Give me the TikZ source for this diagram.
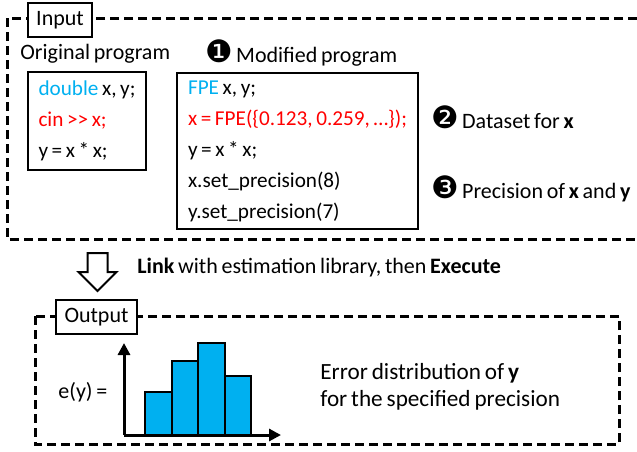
\documentclass[tikz,border=0pt]{standalone}
\usepackage{fontspec}
\setmainfont{Carlito}[WordSpace=0.75]
\newfontfamily\dingfont[Scale=1.4]{DejaVu Sans}
\usetikzlibrary{positioning,arrows.meta}
\definecolor{kwblue}{HTML}{00B0F0}
\definecolor{kwred}{HTML}{FF0000}
\frenchspacing
\tikzset{
  frame/.style = {draw, line width=1.5pt, dash pattern=on 4.5pt off 2.5pt},
  tag/.style   = {shape=rectangle, draw, fill=white, line width=1pt,
                  minimum height=17pt, inner sep=0pt,
                  font=\fontsize{11}{13}\selectfont},
  code/.style  = {shape=rectangle, draw, line width=1pt, align=left,
                  inner xsep=4.5pt, inner ysep=0pt,
                  font=\fontsize{10.6}{15.5}\selectfont},
  note/.style  = {inner sep=0pt, anchor=base west, font=\fontsize{11}{13}\selectfont},
  bar/.style   = {draw, fill=kwblue, line width=1pt},
  axis/.style  = {line width=1.5pt}
}
\newcommand{\vx}[0]{\textbf{x}}
\newcommand{\vy}[0]{\textbf{y}}
\newcommand{\kw}[1]{\textcolor{kwblue}{#1}}
\newcommand{\step}[1]{{\dingfont #1}\hspace{1.6pt}}

\begin{document}
\begin{tikzpicture}[x=0.5pt,y=-0.5pt,>={Triangle[length=6pt,width=6pt]}]
\useasboundingbox (0,0) rectangle (637,451);
% input
\draw[frame] (7,18) rectangle (640,239);
\node[tag, minimum width=32pt] (intag) at (60,20) {Input};
\node[note] (orighead) at (20,59) {Original program};
\node[code, minimum width=59pt, minimum height=49pt] (origcode) at (87,121)
  {\kw{double} x, y;\\ \textcolor{kwred}{cin >{}> x;}\\ y = x * x;};
\node[note] (modhead) at (205,62) {\step{❶}Modified program};
\node[code, minimum width=120.5pt, minimum height=78pt] (modcode) at (297.5,151)
  {\kw{FPE} x, y;\\ \textcolor{kwred}{x = FPE(\{0.123, 0.259, …\});}\\ y = x * x;\\
   x.set\_precision(8)\\ y.set\_precision(7)};
\node[note] (dataset) at (431,128) {\step{❷}Dataset for \vx};
\node[note] (prec) at (431,198) {\step{❸}Precision of \vx{} and \vy};
% link step
\draw[line width=1pt] (87.5,253) -- (107.5,253) -- (107.5,272) -- (116.5,272)
  -- (97.5,291) -- (78.5,272) -- (87.5,272) -- cycle;
\node[note] (linktext) at (137,273)
  {\textbf{Link} with estimation library, then \textbf{Execute}};
% output
\draw[frame] (35,316) rectangle (619,444);
\node[tag, minimum width=40.5pt] (outtag) at (96.5,317) {Output};
\node[note] (ey) at (58,398) {e(y) =};
\coordinate (origin) at (124,435);
\coordinate (ytip) at (124,343);
\coordinate (xtip) at (281,435);
\foreach \xa/\xb/\h in {145/172/392,172/198/361,198/225/343,225/251/376}
  \draw[bar] (\xa,435) rectangle (\xb,\h);
\draw[axis,->] (origin) -- (ytip);
\draw[axis,->] (origin) -- (xtip);
\node[note, align=left, font=\fontsize{11.6}{13.5}\selectfont] (errtext) at (320,406)
  {Error distribution of \vy\\for the specified precision};
\end{tikzpicture}
\end{document}
